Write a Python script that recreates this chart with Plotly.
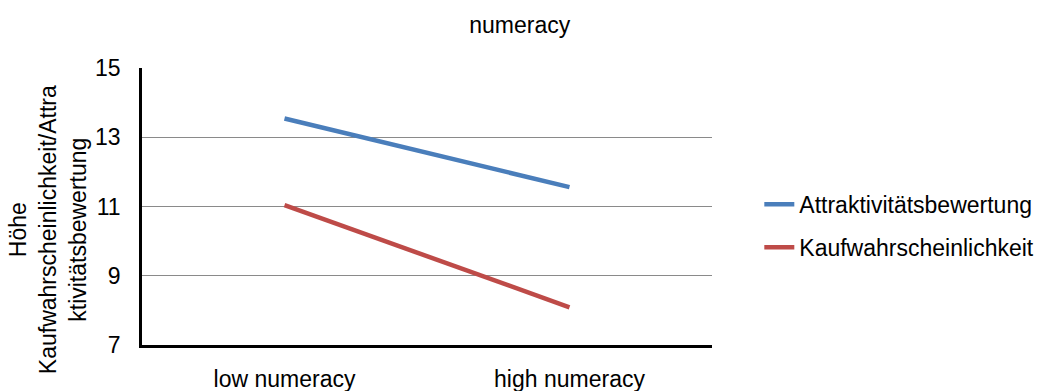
import plotly.graph_objects as go

# Categories and mean ratings per group
categories = ["low numeracy", "high numeracy"]
attraktivitaet = [13.54, 11.56]
kaufwahrscheinlichkeit = [11.04, 8.09]
y_ticks = [7, 9, 11, 13, 15]

FONT = "Arial, 'Liberation Sans', sans-serif"
FS = 23

fig = go.Figure()
fig.add_trace(go.Scatter(
    x=categories, y=attraktivitaet, mode="lines",
    name="Attraktivitätsbewertung", legendgroup="a",
    line=dict(color="#4A7EBB", width=4.5),
))
fig.add_trace(go.Scatter(
    x=categories, y=kaufwahrscheinlichkeit, mode="lines",
    name="Kaufwahrscheinlichkeit", legendgroup="k",
    line=dict(color="#BE4B48", width=4.5),
))

fig.update_layout(
    width=1052, height=391,
    margin=dict(l=142, r=340, t=67.5, b=46, autoexpand=False),
    paper_bgcolor="white", plot_bgcolor="white",
    font=dict(family=FONT, size=FS, color="#000000"),
    title=dict(text="numeracy", x=0.494, xanchor="center", y=0.935, yanchor="middle",
               font=dict(family=FONT, size=FS, color="#000000")),
    showlegend=True,
    legend=dict(x=1.083, xanchor="left", y=0.43, yanchor="middle",
                font=dict(family=FONT, size=FS, color="#000000"),
                tracegroupgap=10, bgcolor="rgba(0,0,0,0)"),
)

fig.update_xaxes(
    type="category", range=[-0.5, 1.5], automargin=False,
    showline=True, linecolor="#000000", linewidth=2.5,
    showgrid=False, ticks="", ticklabelstandoff=12,
    zeroline=False, fixedrange=True,
)
fig.update_yaxes(
    range=[7, 15], tickvals=y_ticks, automargin=False,
    showline=True, linecolor="#000000", linewidth=2.5,
    showgrid=True, gridcolor="#8A8A8A", gridwidth=1.4,
    ticks="", ticklabelstandoff=14, zeroline=False, fixedrange=True,
)

# Axis title, placed as a rotated three-line label
fig.add_annotation(
    text="Höhe<br>Kaufwahrscheinlichkeit/Attra<br>ktivitätsbewertung",
    xref="paper", yref="paper", x=-0.165, y=0.418,
    xanchor="center", yanchor="middle", textangle=-90, showarrow=False,
    font=dict(family=FONT, size=FS, color="#000000"),
)

fig.write_html("out.html")
